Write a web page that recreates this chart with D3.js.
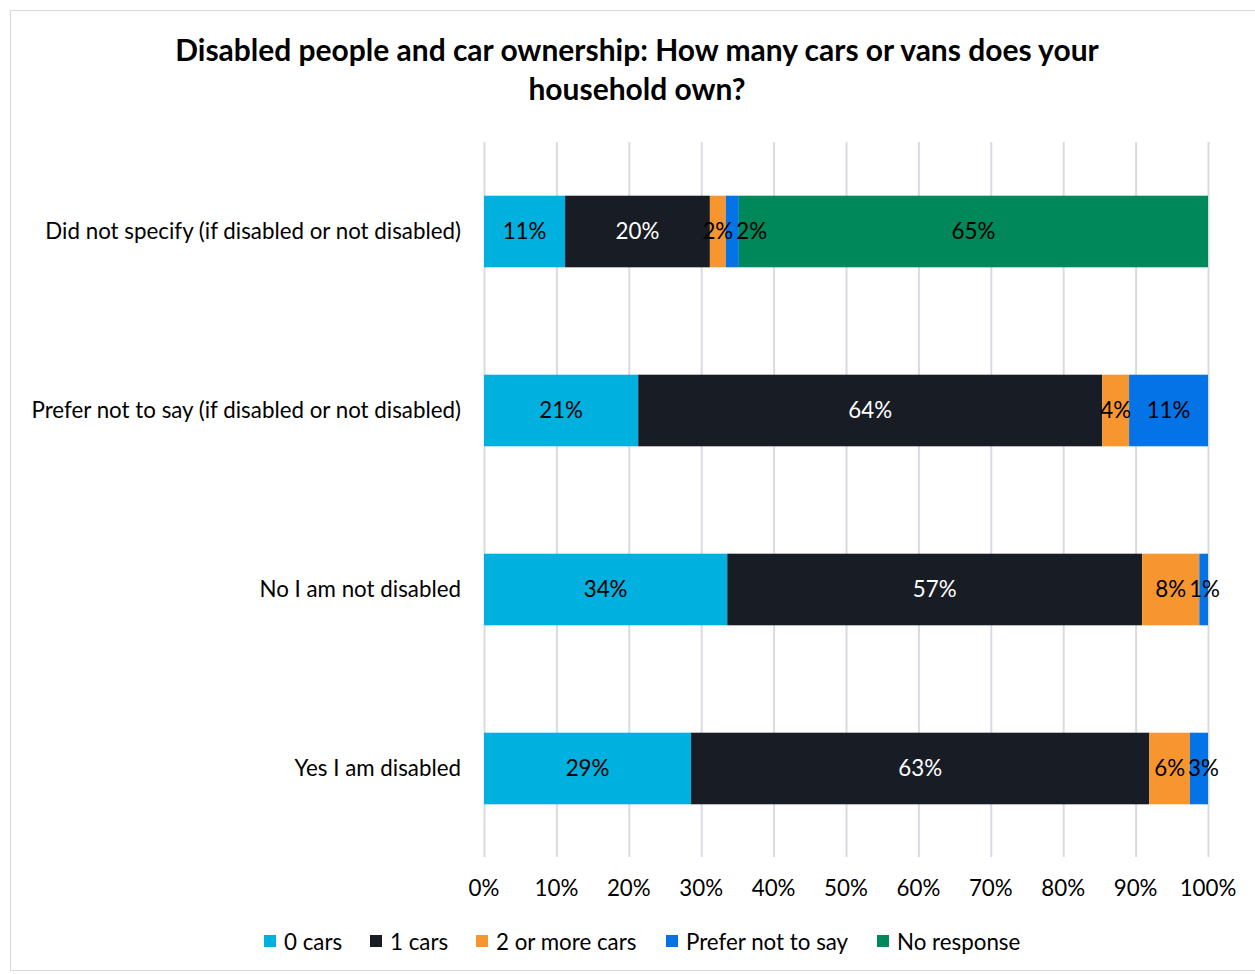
<!DOCTYPE html>
<html><head><meta charset="utf-8">
<script src="https://cdn.jsdelivr.net/npm/d3@7"></script>
<style>
body{margin:0;background:#fff;}
svg{font-family:Lato, "Open Sans", sans-serif;}
</style></head>
<body>
<svg id="c" width="1255" height="974"></svg>
<script>
const categories = ["Did not specify (if disabled or not disabled)", "Prefer not to say (if disabled or not disabled)", "No I am not disabled", "Yes I am disabled"];
const seriesNames = ["0 cars", "1 cars", "2 or more cars", "Prefer not to say", "No response"];
const seriesColors = ["#00b0df", "#181c24", "#f7962f", "#0473e6", "#00875a"];
const labelColors = ["#000", "#fff", "#000", "#000", "#000"];
const v0cars = [11.2, 21.3, 33.6, 28.6];
const v1cars = [20.0, 64.1, 57.3, 63.3];
const v2more = [2.2, 3.7, 7.9, 5.6];
const vPrefer = [1.8, 10.9, 1.2, 2.5];
const vNoResp = [64.8, 0, 0, 0];
const xTicks = [0,10,20,30,40,50,60,70,80,90,100];
const title = ["Disabled people and car ownership: How many cars or vans does your", "household own?"];

const values = [v0cars, v1cars, v2more, vPrefer, vNoResp];
const rows = categories.map((c,i)=>{const o={cat:c}; seriesNames.forEach((s,j)=>o[s]=values[j][i]); return o;});
const stack = d3.stack().keys(seriesNames)(rows);

const svg = d3.select("#c");
svg.append("rect").attr("x",10.5).attr("y",10.5).attr("width",1260).attr("height",960)
  .attr("fill","#fff").attr("stroke","#d9d9d9");

// fit font sizes to the reference text widths
function fit(str, weight, base, target){
  const t = svg.append("text").attr("font-size",base).attr("font-weight",weight).text(str);
  const w = t.node().getComputedTextLength(); t.remove();
  return base*target/w;
}
const titleSize = fit(title[0],"bold",26,924);
const fs = fit(categories[0],"normal",20,416);

const x = d3.scaleLinear().domain([0,100]).range([484,1208]);
const y = d3.scaleBand().domain(categories).range([142,858]).paddingInner(0.6).paddingOuter(0.3);

// title
svg.append("text").attr("x",637).attr("y",61).attr("text-anchor","middle")
  .attr("font-weight","bold").attr("font-size",titleSize).attr("fill","#000")
  .selectAll("tspan").data(title).join("tspan").attr("x",637).attr("dy",(d,i)=>i?39:0).text(d=>d);

// grid
svg.append("g").selectAll("line").data(xTicks).join("line")
  .attr("x1",d=>x(d)+0.5).attr("x2",d=>x(d)+0.5).attr("y1",142).attr("y2",857)
  .attr("stroke","#d9dbe4").attr("stroke-width",2);

// bars
const g = svg.append("g");
stack.forEach((s,j)=>{
  g.append("g").attr("fill",seriesColors[j]).selectAll("rect").data(s).join("rect")
    .attr("x",d=>x(d[0])).attr("width",d=>x(d[1])-x(d[0]))
    .attr("y",d=>y(d.data.cat)).attr("height",y.bandwidth());
});

// labels with overlap avoidance
const lg = svg.append("g").attr("font-size",fs);
categories.forEach((c,i)=>{
  let prevRight = -Infinity;
  stack.forEach((s,j)=>{
    const d = s[i]; const val = d[1]-d[0];
    if (val <= 0) return;
    const t = lg.append("text").text(Math.round(val)+"%").attr("fill",labelColors[j])
      .attr("y",y(c)+y.bandwidth()/2-1).attr("dominant-baseline","central").attr("text-anchor","start");
    const w = t.node().getComputedTextLength();
    let left = (x(d[0])+x(d[1]))/2 - w/2;
    if (left < prevRight + 3) left = prevRight + 3;
    t.attr("x",left);
    prevRight = left + w;
  });
});

// y labels
svg.append("g").attr("font-size",fs).attr("text-anchor","end").attr("fill","#000")
  .selectAll("text").data(categories).join("text")
  .attr("x",461).attr("y",d=>y(d)+y.bandwidth()/2-1).attr("dominant-baseline","central").text(d=>d);

// x tick labels
svg.append("g").attr("font-size",fs).attr("text-anchor","middle")
  .selectAll("text").data(xTicks).join("text")
  .attr("x",d=>x(d)).attr("y",896).text(d=>d+"%");

// legend
const legX = [264,370,476,666,877];
const leg = svg.append("g").attr("font-size",fs);
seriesNames.forEach((s,j)=>{
  leg.append("rect").attr("x",legX[j]).attr("y",935).attr("width",12).attr("height",12).attr("fill",seriesColors[j]);
  leg.append("text").attr("x",legX[j]+20).attr("y",950).text(s);
});
</script>
</body></html>
